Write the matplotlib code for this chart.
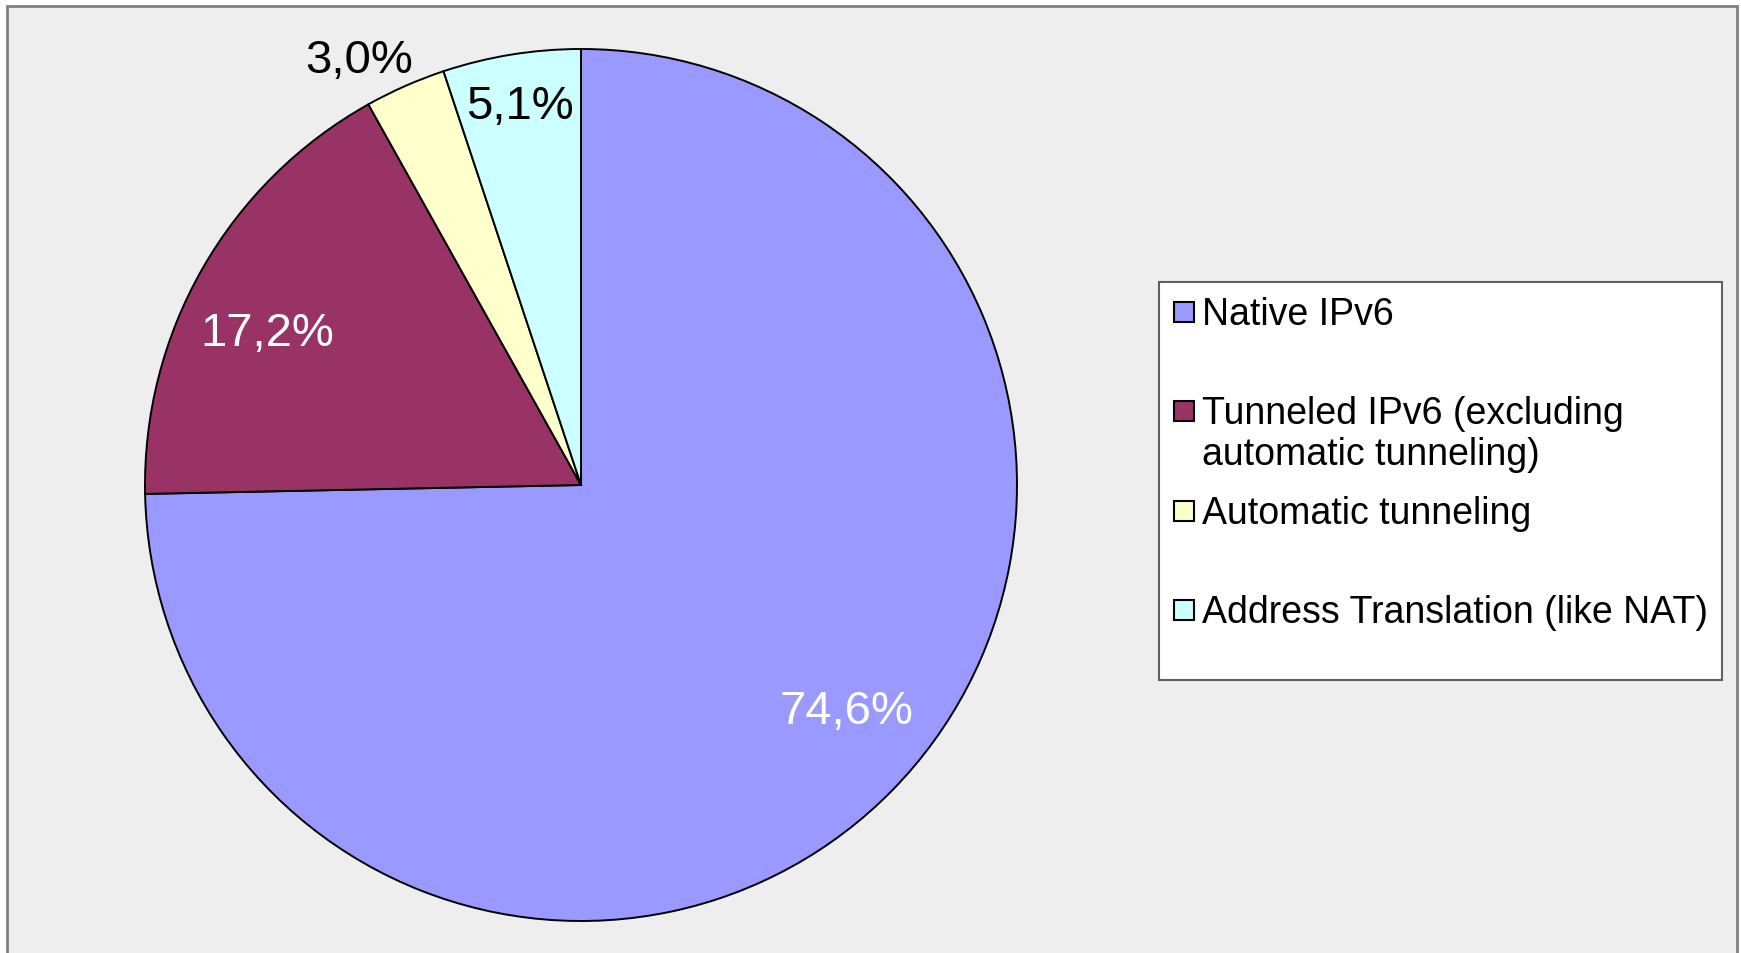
import numpy as np
import matplotlib.pyplot as plt
from matplotlib.patches import Rectangle

plt.rcParams['font.family'] = ['Liberation Sans', 'DejaVu Sans']

# data
labels = ['Native IPv6',
          'Tunneled IPv6 (excluding\nautomatic tunneling)',
          'Automatic tunneling',
          'Address Translation (like NAT)']
shares = [74.6, 17.2, 3.0, 5.1]
colors = ['#9999FF', '#993366', '#FFFFCC', '#CCFFFF']
text_colors = ['white', 'white', 'black', 'black']
label_dist = [0.80, 0.80, 1.10, 0.88]
label_shift = [4, 4, 3.8, 0]   # degrees, excel nudges its labels a bit

W, H = 1741, 954
PCT_FS = 34
LEG_FS = 27

fig = plt.figure(figsize=(W / 100, H / 100), dpi=100, facecolor='white')

# overlay in pixel coords (top-left origin) for frame + legend
bg = fig.add_axes([0, 0, 1, 1], zorder=0)
bg.set_xlim(0, W)
bg.set_ylim(H, 0)
bg.axis('off')
bg.add_patch(Rectangle((7, 7), 1730, H + 20, facecolor='#EEEEEE',
                       edgecolor='#808080', lw=2))

# pie
cx, cy, r = 581, 486, 436
ax = fig.add_axes([(cx - r) / W, (H - cy - r) / H, 2 * r / W, 2 * r / H], zorder=1)
wedges, _ = ax.pie(shares, colors=colors, startangle=90, counterclock=False,
                   wedgeprops=dict(edgecolor='black', linewidth=1.4))
ax.set_xlim(-1, 1)
ax.set_ylim(-1, 1)
ax.set_aspect('equal')
ax.axis('off')

for w, s, d, sh, c in zip(wedges, shares, label_dist, label_shift, text_colors):
    ang = np.deg2rad((w.theta1 + w.theta2) / 2 + sh)
    ax.text(d * np.cos(ang), d * np.sin(ang), f'{s:.1f}%'.replace('.', ','),
            ha='center', va='center', color=c, fontsize=PCT_FS)

# legend, drawn by hand so every entry gets an equal slot like excel does
lx0, ly0, lx1, ly1 = 1159, 283, 1722, 681
bg.add_patch(Rectangle((lx0, ly0), lx1 - lx0, ly1 - ly0, facecolor='white',
                       edgecolor='#606060', lw=1.5, zorder=2))
slot = (ly1 - ly0) / len(labels)
for i, (lab, col) in enumerate(zip(labels, colors)):
    top = ly0 + i * slot
    bg.add_patch(Rectangle((1174, top + 19.5), 20, 20, facecolor=col,
                           edgecolor='black', lw=1.5, zorder=3))
    for k, line in enumerate(lab.split('\n')):
        bg.text(1202, top + 42 + k * 41, line, ha='left', va='baseline',
                fontsize=LEG_FS, zorder=3)

fig.savefig('out.png', dpi=100, facecolor='white')
